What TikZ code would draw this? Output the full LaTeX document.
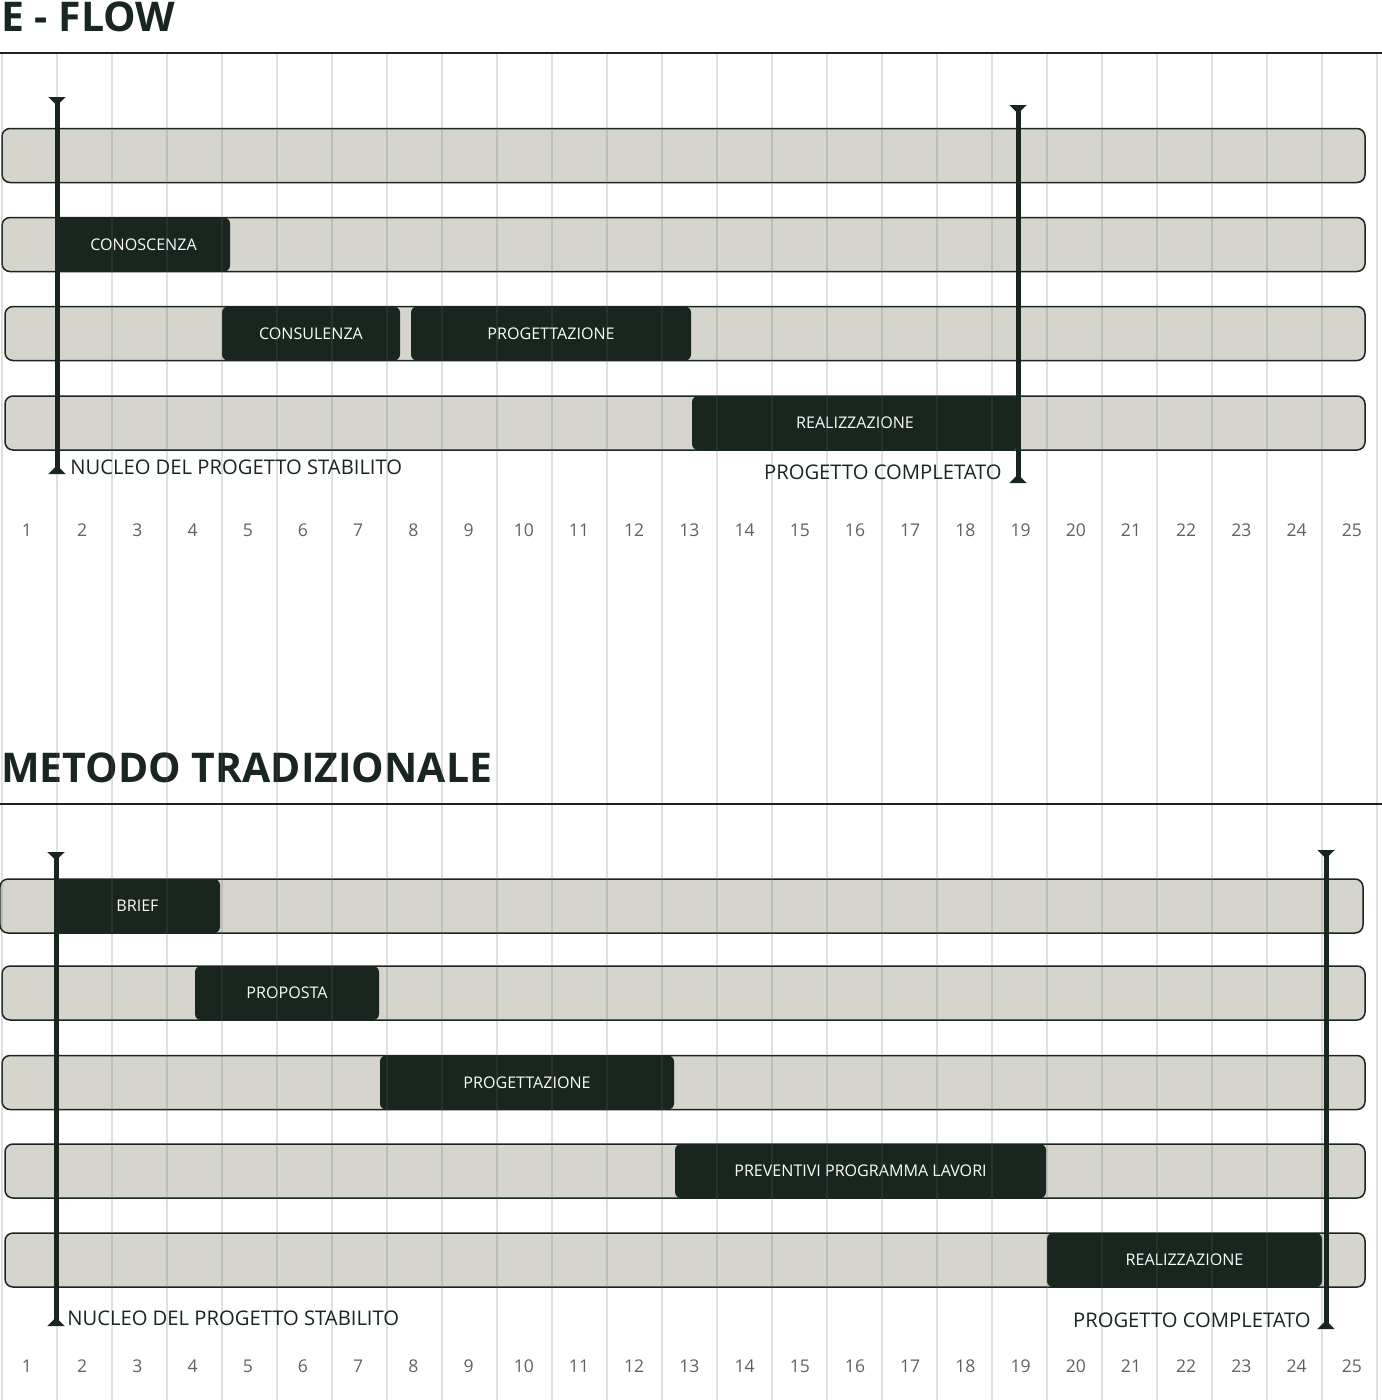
\documentclass[tikz,border=0pt]{standalone}
\usepackage{fontspec}
\setmainfont{Open Sans}
\usetikzlibrary{positioning, arrows.meta}

\definecolor{pine}{HTML}{18261F}
\definecolor{sand}{HTML}{D5D4CD}
\definecolor{inkgrey}{HTML}{5E6360}

\def\u{0.02cm}

\tikzset{
  bar/.style={draw=pine, fill=sand, line width=1.5*\u, rounded corners=0.16cm,
    inner sep=0pt, minimum height=54*\u},
  phase/.style={fill=pine, rounded corners=0.12cm, inner sep=0pt, text=white!92!sand,
    minimum height=54*\u, font=\fontsize{9.15}{11}\selectfont},
  gridline/.style={black!60, opacity=0.2, line width=2*\u},
  rule/.style={pine, line width=2*\u},
  marker/.style={pine, line width=5*\u,
    {Triangle[reversed, width=0.34cm, length=0.17cm]}-{Triangle[reversed, width=0.34cm, length=0.17cm]}},
  milestone/.style={text=pine, inner sep=0pt, font=\fontsize{11.5}{13}\selectfont},
  daynum/.style={text=inkgrey, inner sep=0pt, font=\fontsize{10}{12}\selectfont},
  heading/.style={text=pine, inner sep=0pt, anchor=base west, font=\bfseries\fontsize{23.3}{28}\selectfont}
}

\begin{document}
\begin{tikzpicture}[x=0.02cm, y=-0.02cm]
  \useasboundingbox (0,0) rectangle (1382,1400);

  % E - FLOW
  \node[heading] (efTitle) at (1,31) {E - FLOW};

  \node[bar, minimum width=1363*\u] (efRow1) at (683.5,155.5) {};
  \node[bar, minimum width=1363*\u] (efRow2) at (683.5,244.5) {};
  \node[bar, minimum width=1360*\u] (efRow3) at (685,333.5) {};
  \node[bar, minimum width=1360*\u] (efRow4) at (685,423) {};

  \node[phase, minimum width=173*\u] (efCono) at (143.5,244.5) {CONOSCENZA};
  \node[phase, minimum width=178*\u] (efCons) at (311,333.5) {CONSULENZA};
  \node[phase, minimum width=280*\u] (efProg) at (551,333.5) {PROGETTAZIONE};
  \node[phase, minimum width=326*\u] (efReal) at (855,423) {REALIZZAZIONE};

  % METODO TRADIZIONALE
  \node[heading] (mtTitle) at (1,782) {METODO TRADIZIONALE};

  \node[bar, minimum width=1363*\u] (mtRow1) at (681.5,906) {};
  \node[bar, minimum width=1363*\u] (mtRow2) at (683.5,993) {};
  \node[bar, minimum width=1363*\u] (mtRow3) at (683.5,1082.5) {};
  \node[bar, minimum width=1360*\u] (mtRow4) at (685,1171) {};
  \node[bar, minimum width=1360*\u] (mtRow5) at (685,1260) {};

  \node[phase, minimum width=165*\u] (mtBrief) at (137.5,906) {BRIEF};
  \node[phase, minimum width=184*\u] (mtProp) at (287,993) {PROPOSTA};
  \node[phase, minimum width=294*\u] (mtProg) at (527,1082.5) {PROGETTAZIONE};
  \node[phase, minimum width=371*\u] (mtPrev) at (860.5,1171) {PREVENTIVI PROGRAMMA LAVORI};
  \node[phase, minimum width=275*\u] (mtReal) at (1184.5,1260) {REALIZZAZIONE};

  % grid
  \foreach \k in {0,...,25}
    \draw[gridline] (2+55*\k,53) -- (2+55*\k,1400);

  \draw[rule] (0,53) -- (1382,53);
  \draw[rule] (0,804) -- (1382,804);

  % milestones
  \coordinate (efStartTop) at (57,97);
  \coordinate (efStartBot) at (57,474);
  \coordinate (efEndTop) at (1018,105);
  \coordinate (efEndBot) at (1018,483);
  \draw[marker] (efStartTop) -- (efStartBot);
  \draw[marker] (efEndTop) -- (efEndBot);
  \node[milestone, anchor=west] (efStartLbl) at (70,467) {NUCLEO DEL PROGETTO STABILITO};
  \node[milestone, anchor=east] (efEndLbl) at (1002,472) {PROGETTO COMPLETATO};

  \coordinate (mtStartTop) at (56,852);
  \coordinate (mtStartBot) at (56,1326);
  \coordinate (mtEndTop) at (1326,850);
  \coordinate (mtEndBot) at (1326,1329);
  \draw[marker] (mtStartTop) -- (mtStartBot);
  \draw[marker] (mtEndTop) -- (mtEndBot);
  \node[milestone, anchor=west] (mtStartLbl) at (67,1318) {NUCLEO DEL PROGETTO STABILITO};
  \node[milestone, anchor=east] (mtEndLbl) at (1311,1320) {PROGETTO COMPLETATO};

  % day numbers
  \foreach \n in {1,...,25} {
    \node[daynum] (efDay\n) at (27+55.2*\n-55.2,530) {\n};
    \node[daynum] (mtDay\n) at (27+55.2*\n-55.2,1366) {\n};
  }
\end{tikzpicture}
\end{document}
